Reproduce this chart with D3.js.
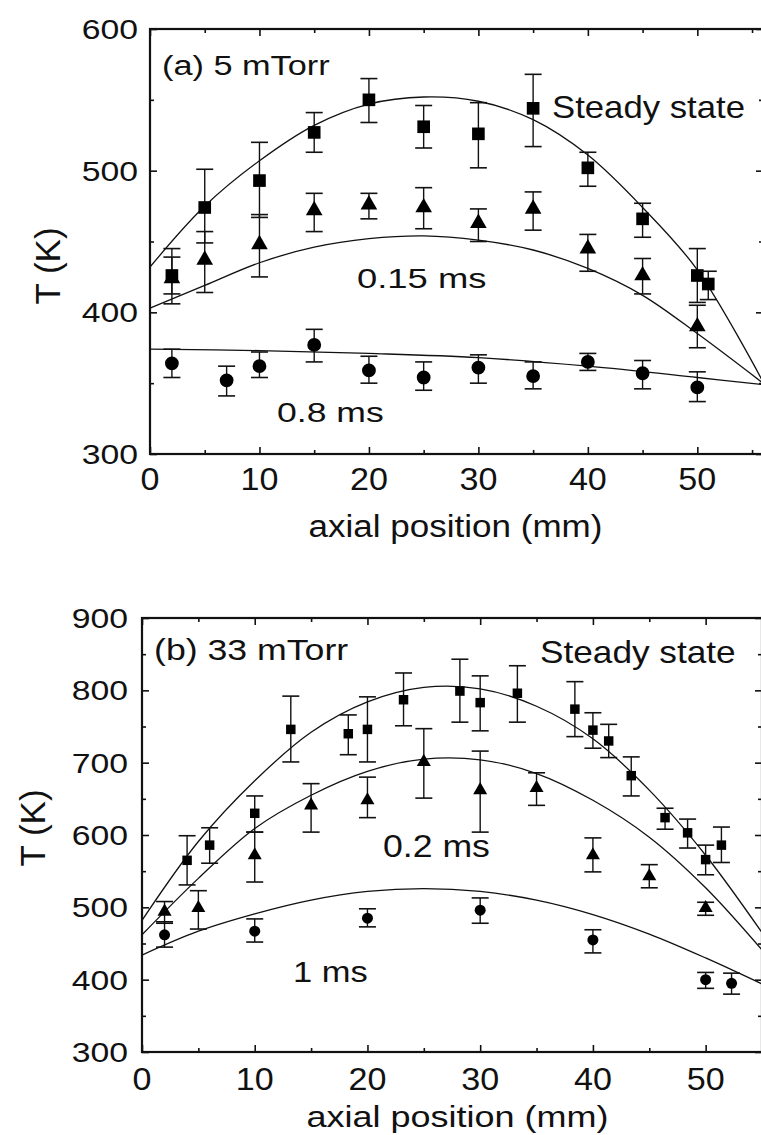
<!DOCTYPE html>
<html>
<head>
<meta charset="utf-8">
<script src="https://cdn.jsdelivr.net/npm/d3@7"></script>
<style>
  body { margin: 0; background: #fff; }
  svg { display: block; }
  text { font-family: "Liberation Sans", Arial, sans-serif; fill: #111; }
</style>
</head>
<body>
<svg id="fig" width="761" height="1135"></svg>
<script>
// panel (a) 5 mTorr : [axial position mm, T, err low, err high]
var aSteady = [[2,426,406,445],[5,474,449,501],[10,493,467,520],[15,527,513,541],[20,550,534,565],
  [25,531,516,546],[30,526,502,548],[35,544,517,568],[40,502,489,513],[45,466,453,477],[50,426,407,445],[51,420,409,429]];
var aEarly = [[2,424,413,439],[5,437,414,457],[10,448,425,469],[15,472,457,484],[20,476,466,484],
  [25,474,459,488],[30,463,450,473],[35,473,458,485],[40,445,429,455],[45,426,413,438],[50,390,375,405]];
var aLate = [[2,364,354,374],[7,352,341,362],[10,362,354,372],[15,377,365,388],[20,359,350,369],
  [25,354,345,365],[30,361,350,370],[35,355,346,365],[40,365,359,371],[45,357,346,366],[50,347,337,358]];
// fitted curves
var aSteadyFit = [[0,432],[5,475],[10,507],[15,532],[20,547],[25,552],[30,549],[35,536],[40,511],[45,474],[50,430],[56,351]];
var aEarlyFit = [[0,403],[5,419],[10,435],[15,446],[20,452],[25,454],[30,451],[35,444],[40,431],[45,412],[50,385],[56,350]];
var aLateFit = [[0,374],[10,373],[20,371],[30,368],[40,362],[50,354],[56,349]];

// panel (b) 33 mTorr
var bSteady = [[4,565,531,599],[6,586,561,610],[10,630,604,654],[13.2,746,701,792],[18.3,740,711,766],[20,746,701,791],
  [23.2,787,751,824],[28.2,799,756,843],[30,783,744,820],[33.3,796,756,834],[38.4,774,736,812],[40,745,720,769],
  [41.4,730,707,753],[43.4,682,654,708],[46.4,624,608,637],[48.4,603,582,622],[50,566,545,586],[51.4,586,562,611]];
var bEarly = [[2,494,478,508],[5,499,470,523],[10,572,535,604],[15,641,604,671],[20,648,624,680],
  [25,701,651,747],[30,662,604,716],[35,665,641,686],[40,572,549,596],[45,543,527,559],[50,499,489,507]];
var bLate = [[2,462,445,480],[10,467,452,484],[20,485,473,498],[30,496,478,513],[40,455,437,469],[50,400,388,410],[52.3,395,380,409]];
var bSteadyFit = [[0,482],[5,591],[10,675],[15,742],[20,784],[25,804],[30,802],[35,778],[40,733],[45,662],[50,572],[55,465]];
var bEarlyFit = [[0,462],[5,540],[10,609],[15,655],[20,688],[25,705],[30,704],[35,685],[40,648],[45,597],[50,527],[55,441]];
var bLateFit = [[0,434],[5,467],[10,491],[15,510],[20,522],[25,526],[30,522],[35,510],[40,490],[45,463],[50,430],[55,394]];

var xMajor = [0, 10, 20, 30, 40, 50];
var xMinor = [5, 15, 25, 35, 45, 55];
var aYMajor = [300, 400, 500, 600], aYMinor = [350, 450, 550];
var bYMajor = [300, 400, 500, 600, 700, 800, 900], bYMinor = [350, 450, 550, 650, 750, 850];

var svg = d3.select("#fig");

function label(g, x, y, txt, size, sx, anchor) {
    return g.append("text")
        .attr("transform", "translate(" + x + "," + y + ") scale(" + sx + ",1)")
        .attr("font-size", size)
        .attr("text-anchor", anchor || "start")
        .text(txt);
}

function drawPanel(p) {
    var g = svg.append("g");
    var x = d3.scaleLinear().domain(p.xDomain).range(p.xRange);
    var y = d3.scaleLinear().domain(p.yDomain).range(p.yRange);
    var left = p.xRange[0], right = p.xRange[1], top = p.yRange[1], bottom = p.yRange[0];

    // ticks on all four sides, pointing inwards
    function ticks(axis, tr, vals, len) {
        g.append("g").attr("transform", tr)
            .call(axis.tickValues(vals).tickSizeInner(-len).tickSizeOuter(0).tickFormat(""))
            .call(function(s) { s.select(".domain").remove(); s.selectAll("line").attr("stroke", "#111").attr("stroke-width", 1.6); });
    }
    ticks(d3.axisBottom(x), "translate(0," + bottom + ")", xMajor, 7);
    ticks(d3.axisBottom(x), "translate(0," + bottom + ")", xMinor, 4);
    ticks(d3.axisTop(x), "translate(0," + top + ")", xMajor, 7);
    ticks(d3.axisTop(x), "translate(0," + top + ")", xMinor, 4);
    ticks(d3.axisLeft(y), "translate(" + left + ",0)", p.yMajor, 7);
    ticks(d3.axisLeft(y), "translate(" + left + ",0)", p.yMinor, 4);
    ticks(d3.axisRight(y), "translate(" + right + ",0)", p.yMajor, 7);
    ticks(d3.axisRight(y), "translate(" + right + ",0)", p.yMinor, 4);

    g.append("rect")
        .attr("x", left).attr("y", top)
        .attr("width", right - left).attr("height", bottom - top)
        .attr("fill", "none").attr("stroke", "#111").attr("stroke-width", 2.2);

    // tick labels
    p.yMajor.forEach(function(v) {
        label(g, p.yLabelX, y(v) + 10, v, 27, 1.25, "end");
    });
    xMajor.forEach(function(v) {
        label(g, x(v), p.xLabelY, v, 31, 1.1, "middle");
    });

    // fitted curves
    var line = d3.line()
        .x(function(d) { return x(d[0]); })
        .y(function(d) { return y(d[1]); })
        .curve(d3.curveCatmullRom.alpha(0.5));
    p.fits.forEach(function(f) {
        g.append("path").datum(f)
            .attr("d", line)
            .attr("fill", "none").attr("stroke", "#111").attr("stroke-width", 1.3);
    });

    // error bars and markers
    p.series.forEach(function(s) {
        var pts = g.append("g").selectAll("g").data(s.data).enter().append("g");
        pts.append("line")
            .attr("x1", function(d) { return x(d[0]); }).attr("x2", function(d) { return x(d[0]); })
            .attr("y1", function(d) { return y(d[2]); }).attr("y2", function(d) { return y(d[3]); })
            .attr("stroke", "#111").attr("stroke-width", 1.4);
        [2, 3].forEach(function(k) {
            pts.append("line")
                .attr("x1", function(d) { return x(d[0]) - p.cap; }).attr("x2", function(d) { return x(d[0]) + p.cap; })
                .attr("y1", function(d) { return y(d[k]); }).attr("y2", function(d) { return y(d[k]); })
                .attr("stroke", "#111").attr("stroke-width", 1.6);
        });
        pts.append("path")
            .attr("transform", function(d) { return "translate(" + x(d[0]) + "," + y(d[1]) + ")"; })
            .attr("d", d3.symbol().type(s.type).size(s.size))
            .attr("fill", "#000");
    });

    // axis titles and annotations
    label(g, (left + Math.min(right, 761)) / 2 + p.xTitleDx, p.xTitleY, "axial position (mm)", p.xTitleSize, p.xTitleSx, "middle");
    g.append("text")
        .attr("transform", "translate(" + p.yTitleX + "," + p.yTitleY + ") rotate(-90)")
        .attr("font-size", 35).attr("text-anchor", "middle")
        .text("T (K)");
    p.notes.forEach(function(n) { label(g, n[0], n[1], n[2], n[3], n[4]); });
}

drawPanel({
    xDomain: [0, 56], xRange: [150, 763],
    yDomain: [300, 600], yRange: [454, 29],
    yMajor: aYMajor, yMinor: aYMinor,
    yLabelX: 138, xLabelY: 490,
    xTitleY: 537, xTitleSize: 31, xTitleSx: 1.13, xTitleDx: 0,
    yTitleX: 60, yTitleY: 266,
    cap: 8.5,
    fits: [aSteadyFit, aEarlyFit, aLateFit],
    series: [
        {data: aSteady, type: d3.symbolSquare, size: 160},
        {data: aEarly, type: d3.symbolTriangle, size: 120},
        {data: aLate, type: d3.symbolCircle, size: 150}
    ],
    notes: [
        [162, 75, "(a) 5 mTorr", 27, 1.27],
        [552, 118, "Steady state", 31, 1.12],
        [357, 288, "0.15 ms", 28, 1.3],
        [277, 422, "0.8 ms", 28, 1.27]
    ]
});

drawPanel({
    xDomain: [0, 55], xRange: [142, 762],
    yDomain: [300, 900], yRange: [1052, 618],
    yMajor: bYMajor, yMinor: bYMinor,
    yLabelX: 128, xLabelY: 1090,
    xTitleY: 1127, xTitleSize: 30, xTitleSx: 1.2, xTitleDx: 6,
    yTitleX: 45, yTitleY: 828,
    cap: 8.5,
    fits: [bSteadyFit, bEarlyFit, bLateFit],
    series: [
        {data: bSteady, type: d3.symbolSquare, size: 90},
        {data: bEarly, type: d3.symbolTriangle, size: 85},
        {data: bLate, type: d3.symbolCircle, size: 95}
    ],
    notes: [
        [154, 660, "(b) 33 mTorr", 29, 1.23],
        [540, 663, "Steady state", 32, 1.1],
        [383, 857, "0.2 ms", 31, 1.15],
        [293, 982, "1 ms", 30, 1.15]
    ]
});
</script>
</body>
</html>
